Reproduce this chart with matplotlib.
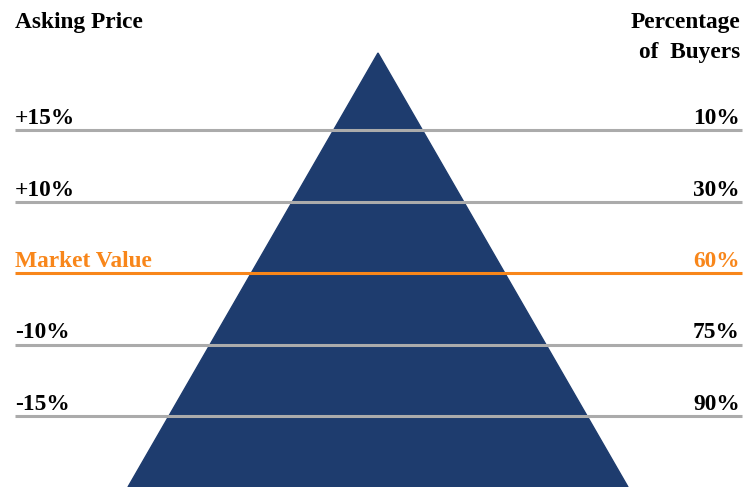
import matplotlib.pyplot as plt
from matplotlib.patches import Polygon

price_labels = ["+15%", "+10%", "Market Value", "-10%", "-15%"]
buyer_labels = ["10%", "30%", "60%", "75%", "90%"]
highlight = "Market Value"

NAVY = "#1e3c6e"
GREY = "#ababab"
ORANGE = "#f8861a"

fig = plt.figure(figsize=(7.46, 4.87), dpi=100)
ax = fig.add_axes([0, 0, 1, 1])
ax.set_xlim(0, 746)
ax.set_ylim(487, 0)
ax.axis("off")

font = dict(family="Liberation Serif", fontweight="bold", fontsize=16.8)

# pyramid
ax.add_patch(Polygon([(378, 53), (128, 487), (628, 487)], closed=True,
                     color=NAVY, zorder=1))

# levels
y0, step = 130, 71.5
for i, (left, right) in enumerate(zip(price_labels, buyer_labels)):
    y = y0 + i * step
    c = ORANGE if left == highlight else GREY
    ax.plot([15, 742], [y, y], color=c, lw=2.2, zorder=2, solid_capstyle="butt")
    ax.text(15, y - 6, left, color=ORANGE if left == highlight else "black",
            ha="left", va="baseline", **font)
    ax.text(740, y - 6, right, color=ORANGE if left == highlight else "black",
            ha="right", va="baseline", **font)

ax.text(15, 28, "Asking Price", ha="left", va="baseline", **font)
ax.text(740, 28, "Percentage", ha="right", va="baseline", **font)
ax.text(740, 58, "of  Buyers", ha="right", va="baseline", **font)

fig.savefig("out.png", dpi=100)
